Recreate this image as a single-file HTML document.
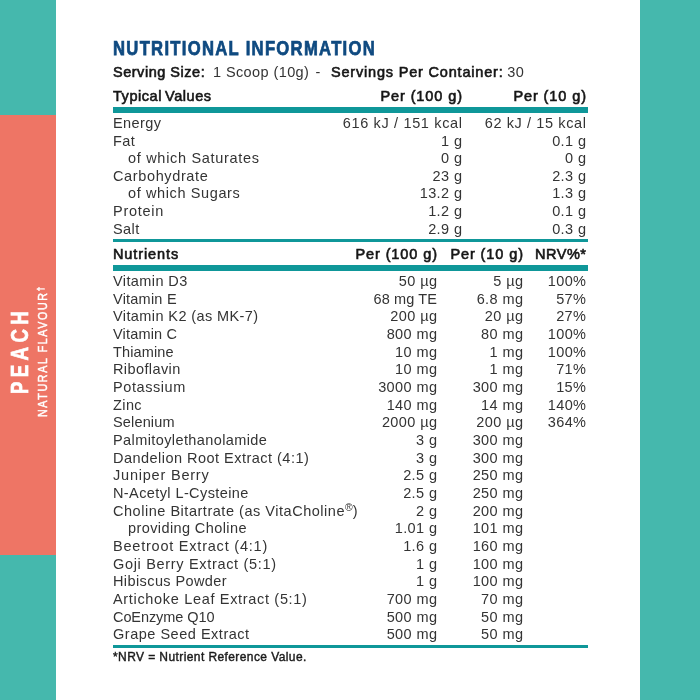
<!DOCTYPE html>
<html><head><meta charset="utf-8"><style>
html,body{margin:0;padding:0;}
body{width:700px;height:700px;position:relative;overflow:hidden;background:#fff;font-family:"Liberation Sans",sans-serif;-webkit-font-smoothing:antialiased;}
.wrap{position:absolute;left:0;top:0;width:700px;height:700px;will-change:transform;}
.t{position:absolute;white-space:nowrap;line-height:normal;}
.t b{font-weight:700;color:#161616;letter-spacing:0.55px}
.t sup{font-size:72%;vertical-align:0;position:relative;top:-0.45em;letter-spacing:0}
.bar{position:absolute;left:113px;width:475px;background:#0f9799;}
.side{position:absolute;}
.rot{position:absolute;color:#fff;white-space:nowrap;line-height:1;transform-origin:0 0;transform:rotate(-90deg);}
</style></head><body>
<div class="wrap"><div class="side" style="left:0;top:0;width:56px;height:115px;background:#45b8ad"></div>
<div class="side" style="left:0;top:115px;width:56px;height:440px;background:#ee7565"></div>
<div class="side" style="left:0;top:555px;width:56px;height:145px;background:#45b8ad"></div>
<div class="side" style="left:640px;top:0;width:60px;height:700px;background:#45b8ad"></div>
<div class="rot" style="left:8.3px;top:394.2px;font-size:24.6px;font-weight:700;letter-spacing:5.7px;transform:rotate(-90deg) scaleX(0.76);-webkit-text-stroke:0.7px #fff;">PEACH</div>
<div class="rot" style="left:35.9px;top:417px;font-size:13.0px;font-weight:400;letter-spacing:2.0px;transform:rotate(-90deg) scaleX(0.82);-webkit-text-stroke:0.5px #fff;">NATURAL FLAVOUR<span style="font-size:75%;position:relative;top:-0.35em">†</span></div>
<div class="t" style="left:113px;top:36.63px;font-size:20.3px;letter-spacing:1.59px;color:#0f4a80;font-weight:bold;transform:scaleX(0.82);transform-origin:0 0;-webkit-text-stroke:0.75px #0f4a80;">NUTRITIONAL INFORMATION</div>
<div class="t" style="left:113px;top:63.88px;font-size:14.5px;letter-spacing:0.52px;color:#161616;font-weight:400;-webkit-text-stroke:0.6px #161616;">Serving Size:</div>
<div class="t" style="left:213px;top:63.88px;font-size:14.5px;letter-spacing:0.4px;color:#343434;font-weight:400;">1 Scoop (10g)</div>
<div class="t" style="left:315.5px;top:63.88px;font-size:14.5px;letter-spacing:0px;color:#343434;font-weight:400;">-</div>
<div class="t" style="left:331px;top:63.88px;font-size:14.5px;letter-spacing:0.81px;color:#161616;font-weight:400;-webkit-text-stroke:0.6px #161616;">Servings Per Container:</div>
<div class="t" style="left:507.3px;top:63.88px;font-size:14.5px;letter-spacing:0.4px;color:#343434;font-weight:400;">30</div>
<div class="t" style="left:113px;top:87.88px;font-size:14.5px;letter-spacing:0.55px;color:#161616;font-weight:400;word-spacing:-1.5px;-webkit-text-stroke:0.6px #161616;">Typical Values</div>
<div class="t" style="right:238px;top:87.88px;font-size:14.5px;letter-spacing:0.9px;color:#161616;font-weight:400;margin-right:-0.9px;-webkit-text-stroke:0.6px #161616;">Per (100 g)</div>
<div class="t" style="right:114px;top:87.88px;font-size:14.5px;letter-spacing:0.9px;color:#161616;font-weight:400;margin-right:-0.9px;-webkit-text-stroke:0.6px #161616;">Per (10 g)</div>
<div class="bar" style="top:107px;height:6px"></div>
<div class="t" style="left:113px;top:115.28px;font-size:14.5px;letter-spacing:0.4px;color:#343434;font-weight:400;">Energy</div>
<div class="t" style="right:238px;top:115.28px;font-size:14.5px;letter-spacing:0.65px;color:#343434;font-weight:400;margin-right:-0.65px;">616 kJ / 151 kcal</div>
<div class="t" style="right:114px;top:115.28px;font-size:14.5px;letter-spacing:0.6142857142857143px;color:#343434;font-weight:400;margin-right:-0.6142857142857143px;">62 kJ / 15 kcal</div>
<div class="t" style="left:113px;top:132.83px;font-size:14.5px;letter-spacing:0.4px;color:#343434;font-weight:400;">Fat</div>
<div class="t" style="right:238px;top:132.83px;font-size:14.5px;letter-spacing:0.4px;color:#343434;font-weight:400;margin-right:-0.4px;">1 g</div>
<div class="t" style="right:114px;top:132.83px;font-size:14.5px;letter-spacing:0.4px;color:#343434;font-weight:400;margin-right:-0.4px;">0.1 g</div>
<div class="t" style="left:128px;top:150.38px;font-size:14.5px;letter-spacing:0.6941176470588235px;color:#343434;font-weight:400;">of which Saturates</div>
<div class="t" style="right:238px;top:150.38px;font-size:14.5px;letter-spacing:0.4px;color:#343434;font-weight:400;margin-right:-0.4px;">0 g</div>
<div class="t" style="right:114px;top:150.38px;font-size:14.5px;letter-spacing:0.4px;color:#343434;font-weight:400;margin-right:-0.4px;">0 g</div>
<div class="t" style="left:113px;top:167.93px;font-size:14.5px;letter-spacing:0.6272727272727273px;color:#343434;font-weight:400;">Carbohydrate</div>
<div class="t" style="right:238px;top:167.93px;font-size:14.5px;letter-spacing:0.4px;color:#343434;font-weight:400;margin-right:-0.4px;">23 g</div>
<div class="t" style="right:114px;top:167.93px;font-size:14.5px;letter-spacing:0.4px;color:#343434;font-weight:400;margin-right:-0.4px;">2.3 g</div>
<div class="t" style="left:128px;top:185.48px;font-size:14.5px;letter-spacing:0.6142857142857143px;color:#343434;font-weight:400;">of which Sugars</div>
<div class="t" style="right:238px;top:185.48px;font-size:14.5px;letter-spacing:0.4px;color:#343434;font-weight:400;margin-right:-0.4px;">13.2 g</div>
<div class="t" style="right:114px;top:185.48px;font-size:14.5px;letter-spacing:0.4px;color:#343434;font-weight:400;margin-right:-0.4px;">1.3 g</div>
<div class="t" style="left:113px;top:203.03px;font-size:14.5px;letter-spacing:0.7333333333333334px;color:#343434;font-weight:400;">Protein</div>
<div class="t" style="right:238px;top:203.03px;font-size:14.5px;letter-spacing:0.4px;color:#343434;font-weight:400;margin-right:-0.4px;">1.2 g</div>
<div class="t" style="right:114px;top:203.03px;font-size:14.5px;letter-spacing:0.4px;color:#343434;font-weight:400;margin-right:-0.4px;">0.1 g</div>
<div class="t" style="left:113px;top:220.58px;font-size:14.5px;letter-spacing:0.4px;color:#343434;font-weight:400;">Salt</div>
<div class="t" style="right:238px;top:220.58px;font-size:14.5px;letter-spacing:0.4px;color:#343434;font-weight:400;margin-right:-0.4px;">2.9 g</div>
<div class="t" style="right:114px;top:220.58px;font-size:14.5px;letter-spacing:0.4px;color:#343434;font-weight:400;margin-right:-0.4px;">0.3 g</div>
<div class="bar" style="top:239px;height:3px"></div>
<div class="t" style="left:113px;top:245.88px;font-size:14.5px;letter-spacing:0.9px;color:#161616;font-weight:400;-webkit-text-stroke:0.6px #161616;">Nutrients</div>
<div class="t" style="right:263px;top:245.88px;font-size:14.5px;letter-spacing:0.9px;color:#161616;font-weight:400;margin-right:-0.9px;-webkit-text-stroke:0.6px #161616;">Per (100 g)</div>
<div class="t" style="right:177px;top:245.88px;font-size:14.5px;letter-spacing:0.9px;color:#161616;font-weight:400;margin-right:-0.9px;-webkit-text-stroke:0.6px #161616;">Per (10 g)</div>
<div class="t" style="right:114px;top:245.88px;font-size:14.5px;letter-spacing:0.55px;color:#161616;font-weight:400;margin-right:-0.55px;-webkit-text-stroke:0.6px #161616;">NRV%*</div>
<div class="bar" style="top:265px;height:6px"></div>
<div class="t" style="left:113px;top:272.88px;font-size:14.5px;letter-spacing:0.4px;color:#343434;font-weight:400;">Vitamin D3</div>
<div class="t" style="right:263px;top:272.88px;font-size:14.5px;letter-spacing:0.4px;color:#343434;font-weight:400;margin-right:-0.4px;">50 µg</div>
<div class="t" style="right:177px;top:272.88px;font-size:14.5px;letter-spacing:0.4px;color:#343434;font-weight:400;margin-right:-0.4px;">5 µg</div>
<div class="t" style="right:114px;top:272.88px;font-size:14.5px;letter-spacing:0.4px;color:#343434;font-weight:400;margin-right:-0.4px;">100%</div>
<div class="t" style="left:113px;top:290.54px;font-size:14.5px;letter-spacing:0.22500000000000003px;color:#343434;font-weight:400;">Vitamin E</div>
<div class="t" style="right:263px;top:290.54px;font-size:14.5px;letter-spacing:0.11428571428571432px;color:#343434;font-weight:400;margin-right:-0.11428571428571432px;">68 mg TE</div>
<div class="t" style="right:177px;top:290.54px;font-size:14.5px;letter-spacing:0.4px;color:#343434;font-weight:400;margin-right:-0.4px;">6.8 mg</div>
<div class="t" style="right:114px;top:290.54px;font-size:14.5px;letter-spacing:0.4px;color:#343434;font-weight:400;margin-right:-0.4px;">57%</div>
<div class="t" style="left:113px;top:308.21px;font-size:14.5px;letter-spacing:0.4px;color:#343434;font-weight:400;">Vitamin K2 (as MK-7)</div>
<div class="t" style="right:263px;top:308.21px;font-size:14.5px;letter-spacing:0.4px;color:#343434;font-weight:400;margin-right:-0.4px;">200 µg</div>
<div class="t" style="right:177px;top:308.21px;font-size:14.5px;letter-spacing:0.4px;color:#343434;font-weight:400;margin-right:-0.4px;">20 µg</div>
<div class="t" style="right:114px;top:308.21px;font-size:14.5px;letter-spacing:0.4px;color:#343434;font-weight:400;margin-right:-0.4px;">27%</div>
<div class="t" style="left:113px;top:325.87px;font-size:14.5px;letter-spacing:0.17500000000000002px;color:#343434;font-weight:400;">Vitamin C</div>
<div class="t" style="right:263px;top:325.87px;font-size:14.5px;letter-spacing:0.4px;color:#343434;font-weight:400;margin-right:-0.4px;">800 mg</div>
<div class="t" style="right:177px;top:325.87px;font-size:14.5px;letter-spacing:0.4px;color:#343434;font-weight:400;margin-right:-0.4px;">80 mg</div>
<div class="t" style="right:114px;top:325.87px;font-size:14.5px;letter-spacing:0.4px;color:#343434;font-weight:400;margin-right:-0.4px;">100%</div>
<div class="t" style="left:113px;top:343.54px;font-size:14.5px;letter-spacing:0.14285714285714285px;color:#343434;font-weight:400;">Thiamine</div>
<div class="t" style="right:263px;top:343.54px;font-size:14.5px;letter-spacing:0.4px;color:#343434;font-weight:400;margin-right:-0.4px;">10 mg</div>
<div class="t" style="right:177px;top:343.54px;font-size:14.5px;letter-spacing:0.4px;color:#343434;font-weight:400;margin-right:-0.4px;">1 mg</div>
<div class="t" style="right:114px;top:343.54px;font-size:14.5px;letter-spacing:0.4px;color:#343434;font-weight:400;margin-right:-0.4px;">100%</div>
<div class="t" style="left:113px;top:361.20px;font-size:14.5px;letter-spacing:0.4px;color:#343434;font-weight:400;">Riboflavin</div>
<div class="t" style="right:263px;top:361.20px;font-size:14.5px;letter-spacing:0.4px;color:#343434;font-weight:400;margin-right:-0.4px;">10 mg</div>
<div class="t" style="right:177px;top:361.20px;font-size:14.5px;letter-spacing:0.4px;color:#343434;font-weight:400;margin-right:-0.4px;">1 mg</div>
<div class="t" style="right:114px;top:361.20px;font-size:14.5px;letter-spacing:0.4px;color:#343434;font-weight:400;margin-right:-0.4px;">71%</div>
<div class="t" style="left:113px;top:378.87px;font-size:14.5px;letter-spacing:0.575px;color:#343434;font-weight:400;">Potassium</div>
<div class="t" style="right:263px;top:378.87px;font-size:14.5px;letter-spacing:0.4px;color:#343434;font-weight:400;margin-right:-0.4px;">3000 mg</div>
<div class="t" style="right:177px;top:378.87px;font-size:14.5px;letter-spacing:0.4px;color:#343434;font-weight:400;margin-right:-0.4px;">300 mg</div>
<div class="t" style="right:114px;top:378.87px;font-size:14.5px;letter-spacing:0.4px;color:#343434;font-weight:400;margin-right:-0.4px;">15%</div>
<div class="t" style="left:113px;top:396.53px;font-size:14.5px;letter-spacing:0.4px;color:#343434;font-weight:400;">Zinc</div>
<div class="t" style="right:263px;top:396.53px;font-size:14.5px;letter-spacing:0.4px;color:#343434;font-weight:400;margin-right:-0.4px;">140 mg</div>
<div class="t" style="right:177px;top:396.53px;font-size:14.5px;letter-spacing:0.4px;color:#343434;font-weight:400;margin-right:-0.4px;">14 mg</div>
<div class="t" style="right:114px;top:396.53px;font-size:14.5px;letter-spacing:0.4px;color:#343434;font-weight:400;margin-right:-0.4px;">140%</div>
<div class="t" style="left:113px;top:414.20px;font-size:14.5px;letter-spacing:0.15714285714285717px;color:#343434;font-weight:400;">Selenium</div>
<div class="t" style="right:263px;top:414.20px;font-size:14.5px;letter-spacing:0.4px;color:#343434;font-weight:400;margin-right:-0.4px;">2000 µg</div>
<div class="t" style="right:177px;top:414.20px;font-size:14.5px;letter-spacing:0.4px;color:#343434;font-weight:400;margin-right:-0.4px;">200 µg</div>
<div class="t" style="right:114px;top:414.20px;font-size:14.5px;letter-spacing:0.4px;color:#343434;font-weight:400;margin-right:-0.4px;">364%</div>
<div class="t" style="left:113px;top:431.86px;font-size:14.5px;letter-spacing:0.4px;color:#343434;font-weight:400;">Palmitoylethanolamide</div>
<div class="t" style="right:263px;top:431.86px;font-size:14.5px;letter-spacing:0.4px;color:#343434;font-weight:400;margin-right:-0.4px;">3 g</div>
<div class="t" style="right:177px;top:431.86px;font-size:14.5px;letter-spacing:0.4px;color:#343434;font-weight:400;margin-right:-0.4px;">300 mg</div>
<div class="t" style="left:113px;top:449.53px;font-size:14.5px;letter-spacing:0.4740740740740741px;color:#343434;font-weight:400;">Dandelion Root Extract (4:1)</div>
<div class="t" style="right:263px;top:449.53px;font-size:14.5px;letter-spacing:0.4px;color:#343434;font-weight:400;margin-right:-0.4px;">3 g</div>
<div class="t" style="right:177px;top:449.53px;font-size:14.5px;letter-spacing:0.4px;color:#343434;font-weight:400;margin-right:-0.4px;">300 mg</div>
<div class="t" style="left:113px;top:467.19px;font-size:14.5px;letter-spacing:0.7916666666666667px;color:#343434;font-weight:400;">Juniper Berry</div>
<div class="t" style="right:263px;top:467.19px;font-size:14.5px;letter-spacing:0.4px;color:#343434;font-weight:400;margin-right:-0.4px;">2.5 g</div>
<div class="t" style="right:177px;top:467.19px;font-size:14.5px;letter-spacing:0.4px;color:#343434;font-weight:400;margin-right:-0.4px;">250 mg</div>
<div class="t" style="left:113px;top:484.86px;font-size:14.5px;letter-spacing:0.4px;color:#343434;font-weight:400;">N-Acetyl L-Cysteine</div>
<div class="t" style="right:263px;top:484.86px;font-size:14.5px;letter-spacing:0.4px;color:#343434;font-weight:400;margin-right:-0.4px;">2.5 g</div>
<div class="t" style="right:177px;top:484.86px;font-size:14.5px;letter-spacing:0.4px;color:#343434;font-weight:400;margin-right:-0.4px;">250 mg</div>
<div class="t" style="left:113px;top:502.52px;font-size:14.5px;letter-spacing:0.5257142857142858px;color:#343434;font-weight:400;">Choline Bitartrate (as VitaCholine<sup>®</sup>)</div>
<div class="t" style="right:263px;top:502.52px;font-size:14.5px;letter-spacing:0.4px;color:#343434;font-weight:400;margin-right:-0.4px;">2 g</div>
<div class="t" style="right:177px;top:502.52px;font-size:14.5px;letter-spacing:0.4px;color:#343434;font-weight:400;margin-right:-0.4px;">200 mg</div>
<div class="t" style="left:128px;top:520.19px;font-size:14.5px;letter-spacing:0.4px;color:#343434;font-weight:400;">providing Choline</div>
<div class="t" style="right:263px;top:520.19px;font-size:14.5px;letter-spacing:0.4px;color:#343434;font-weight:400;margin-right:-0.4px;">1.01 g</div>
<div class="t" style="right:177px;top:520.19px;font-size:14.5px;letter-spacing:0.4px;color:#343434;font-weight:400;margin-right:-0.4px;">101 mg</div>
<div class="t" style="left:113px;top:537.85px;font-size:14.5px;letter-spacing:0.780952380952381px;color:#343434;font-weight:400;">Beetroot Extract (4:1)</div>
<div class="t" style="right:263px;top:537.85px;font-size:14.5px;letter-spacing:0.4px;color:#343434;font-weight:400;margin-right:-0.4px;">1.6 g</div>
<div class="t" style="right:177px;top:537.85px;font-size:14.5px;letter-spacing:0.4px;color:#343434;font-weight:400;margin-right:-0.4px;">160 mg</div>
<div class="t" style="left:113px;top:555.52px;font-size:14.5px;letter-spacing:0.6782608695652175px;color:#343434;font-weight:400;">Goji Berry Extract (5:1)</div>
<div class="t" style="right:263px;top:555.52px;font-size:14.5px;letter-spacing:0.4px;color:#343434;font-weight:400;margin-right:-0.4px;">1 g</div>
<div class="t" style="right:177px;top:555.52px;font-size:14.5px;letter-spacing:0.4px;color:#343434;font-weight:400;margin-right:-0.4px;">100 mg</div>
<div class="t" style="left:113px;top:573.18px;font-size:14.5px;letter-spacing:0.4px;color:#343434;font-weight:400;">Hibiscus Powder</div>
<div class="t" style="right:263px;top:573.18px;font-size:14.5px;letter-spacing:0.4px;color:#343434;font-weight:400;margin-right:-0.4px;">1 g</div>
<div class="t" style="right:177px;top:573.18px;font-size:14.5px;letter-spacing:0.4px;color:#343434;font-weight:400;margin-right:-0.4px;">100 mg</div>
<div class="t" style="left:113px;top:590.85px;font-size:14.5px;letter-spacing:0.674074074074074px;color:#343434;font-weight:400;">Artichoke Leaf Extract (5:1)</div>
<div class="t" style="right:263px;top:590.85px;font-size:14.5px;letter-spacing:0.4px;color:#343434;font-weight:400;margin-right:-0.4px;">700 mg</div>
<div class="t" style="right:177px;top:590.85px;font-size:14.5px;letter-spacing:0.4px;color:#343434;font-weight:400;margin-right:-0.4px;">70 mg</div>
<div class="t" style="left:113px;top:608.51px;font-size:14.5px;letter-spacing:-0.08181818181818179px;color:#343434;font-weight:400;">CoEnzyme Q10</div>
<div class="t" style="right:263px;top:608.51px;font-size:14.5px;letter-spacing:0.4px;color:#343434;font-weight:400;margin-right:-0.4px;">500 mg</div>
<div class="t" style="right:177px;top:608.51px;font-size:14.5px;letter-spacing:0.4px;color:#343434;font-weight:400;margin-right:-0.4px;">50 mg</div>
<div class="t" style="left:113px;top:626.18px;font-size:14.5px;letter-spacing:0.5176470588235295px;color:#343434;font-weight:400;">Grape Seed Extract</div>
<div class="t" style="right:263px;top:626.18px;font-size:14.5px;letter-spacing:0.4px;color:#343434;font-weight:400;margin-right:-0.4px;">500 mg</div>
<div class="t" style="right:177px;top:626.18px;font-size:14.5px;letter-spacing:0.4px;color:#343434;font-weight:400;margin-right:-0.4px;">50 mg</div>
<div class="bar" style="top:645px;height:3px"></div>
<div class="t" style="left:113px;top:650.14px;font-size:12px;letter-spacing:0.41px;color:#1a1a1a;font-weight:400;-webkit-text-stroke:0.4px #1a1a1a;">*NRV = Nutrient Reference Value.</div>
</div></body></html>
